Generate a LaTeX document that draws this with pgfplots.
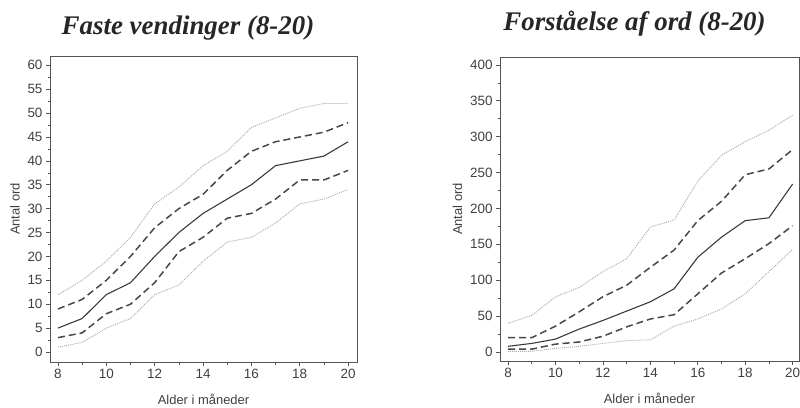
\documentclass[border=0pt]{standalone}
\usepackage{pgfplots}
\pgfplotsset{compat=1.18}
\usepackage{fontspec}
\setmainfont{Liberation Serif}
\newfontfamily\arial{Liberation Sans}
\definecolor{axc}{HTML}{555555}
\definecolor{tickc}{HTML}{404040}
\definecolor{medc}{HTML}{3A3A3A}
\definecolor{qc}{HTML}{484848}
\definecolor{pc}{HTML}{AAAAAA}
\pgfplotsset{
  myax/.style={
    scale only axis, anchor=south west,
    axis line style={axc, line width=0.8bp},
    xtick pos=lower, ytick pos=left, tick align=outside,
    major tick length=4bp, minor tick length=2.5bp,
    every tick/.style={axc, line width=0.6bp},
    minor x tick num=1, minor y tick num=1,
    ticklabel style={font=\arial\fontsize{13.5}{15}\selectfont, text=tickc},
    /pgf/number format/assume math mode=true,
    xtick={8,10,...,20},
    label style={font=\arial\fontsize{13}{15}\selectfont, text=tickc},
    xlabel={Alder i måneder}, ylabel={Antal ord},
    xlabel style={yshift=-8.5bp},
    ylabel style={yshift=1bp},
  },
  med/.style={medc, line width=1.1bp},
  qrt/.style={qc, line width=1.5bp, dash pattern=on 7bp off 4bp},
  pct/.style={pc, line width=0.9bp, dash pattern=on 1bp off 1bp},
}
\begin{document}
\begin{tikzpicture}[x=1bp,y=1bp]
\useasboundingbox (0,0) rectangle (800,407);
\begin{axis}[myax, at={(50bp,45bp)}, width=307bp, height=306bp,
  xmin=7.67, xmax=20.37, ymin=-2.1, ymax=61.95, ytick={0,5,...,60}]
\addplot[pct] coordinates {(8,12)(9,15)(10,19)(11,24)(12,31)(13,34.5)(14,39)(15,42)(16,47)(17,49)(18,51)(19,52)(20,52)};
\addplot[qrt] coordinates {(8,9)(9,11)(10,15)(11,20)(12,26)(13,30)(14,33)(15,38)(16,42)(17,44)(18,45)(19,46)(20,48)};
\addplot[med] coordinates {(8,5)(9,7)(10,12)(11,14.5)(12,20)(13,25)(14,29)(15,32)(16,35)(17,39)(18,40)(19,41)(20,44)};
\addplot[qrt] coordinates {(8,3)(9,4)(10,8)(11,10)(12,14.5)(13,21)(14,24)(15,28)(16,29)(17,32)(18,36)(19,36)(20,38)};
\addplot[pct] coordinates {(8,1)(9,2)(10,5)(11,7)(12,12)(13,14)(14,19)(15,23)(16,24)(17,27)(18,31)(19,32)(20,34)};
\end{axis}
\begin{axis}[myax, at={(500bp,46bp)}, width=299bp, height=304bp,
  xmin=7.66, xmax=20.27, ymin=-12.5, ymax=411, ytick={0,50,...,400}]
\addplot[pct] coordinates {(8,40)(9,51)(10,77)(11,90)(12,112)(13,130)(14,174)(15,184)(16,238)(17,274)(18,293)(19,309)(20,330)};
\addplot[qrt] coordinates {(8,20)(9,20)(10,36)(11,56)(12,77)(13,93)(14,118)(15,142)(16,183)(17,210)(18,247)(19,255)(20,282)};
\addplot[med] coordinates {(8,8)(9,12)(10,18)(11,32)(12,44)(13,57)(14,70)(15,88)(16,132)(17,160)(18,183)(19,187)(20,234)};
\addplot[qrt] coordinates {(8,4)(9,4)(10,11)(11,14)(12,22)(13,35)(14,46)(15,52)(16,81)(17,110)(18,130)(19,151)(20,176)};
\addplot[pct] coordinates {(8,1)(9,1)(10,5)(11,8)(12,12)(13,16)(14,17)(15,36)(16,46)(17,60)(18,81)(19,112)(20,143)};
\end{axis}
\node[anchor=base, font=\bfseries\itshape\fontsize{27}{30}\selectfont, text=black!85] at (188,372.7) {Faste vendinger (8-20)};
\node[anchor=base, font=\bfseries\itshape\fontsize{27}{30}\selectfont, text=black!85] at (634.5,376.3) {Forståelse af ord (8-20)};
\end{tikzpicture}
\end{document}
